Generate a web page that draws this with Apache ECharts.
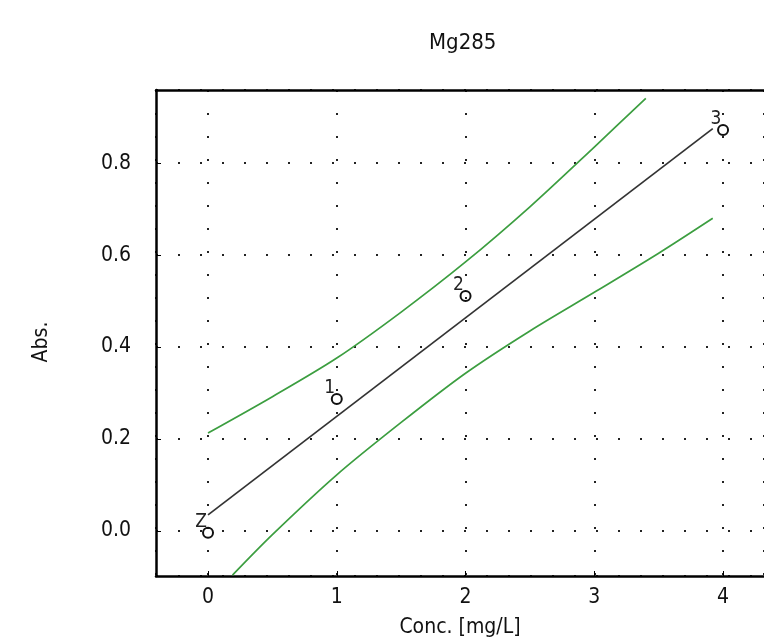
<!DOCTYPE html>
<html>
<head>
<meta charset="utf-8">
<style>
  html, body { margin: 0; padding: 0; background: #fff; }
  #chart { width: 764px; height: 639px; }
</style>
<script src="https://cdn.jsdelivr.net/npm/echarts@6/dist/echarts.min.js"></script>
</head>
<body>
<div id="chart"></div>
<script>
// standards (measured points)
const stdNames = ["Z", "1", "2", "3"];
const stdConc = [0, 1, 2, 4];
const stdAbs = [-0.004, 0.287, 0.511, 0.872];

// calibration line
const fitConc = [0, 3.92];
const fitAbs = [0.035, 0.875];

// confidence band
const upperConc = [0, 0.5, 1, 1.5, 2, 2.5, 3, 3.4];
const upperAbs = [0.213, 0.292, 0.376, 0.476, 0.585, 0.705, 0.835, 0.941];
const lowerConc = [0.19, 0.5, 1, 1.5, 2, 2.5, 3, 3.5, 3.92];
const lowerAbs = [-0.096, -0.008, 0.122, 0.236, 0.343, 0.435, 0.519, 0.604, 0.68];

const font = "DejaVu Sans Condensed, DejaVu Sans, sans-serif";
const zip = (xs, ys) => xs.map((x, i) => [x, ys[i]]);

const chart = echarts.init(document.getElementById("chart"));

// plot box runs off the right edge of the picture
const xMin = -0.404, xMax = 4.318;

const option = {
  animation: false,
  backgroundColor: "#fff",
  title: {
    text: "Mg285",
    left: 424,
    top: 27,
    textStyle: { fontFamily: font, fontSize: 22, fontWeight: "normal", color: "#111" }
  },
  grid: {
    left: 156,
    top: 90,
    right: 0,
    height: 486,
    show: false,
    containLabel: false,
    outerBoundsMode: "none"
  },
  xAxis: [
    {
      type: "value",
      min: xMin,
      max: xMax,
      splitNumber: 5,
      name: "Conc. [mg/L]",
      nameLocation: "middle",
      nameGap: 41,
      nameTextStyle: { fontFamily: font, fontSize: 21, color: "#111" },
      axisLine: { show: true, onZero: false, lineStyle: { color: "#000", width: 2.5 } },
      axisTick: { show: true, inside: true, length: 5, lineStyle: { color: "#000" } },
      axisLabel: {
        showMinLabel: false, showMaxLabel: false,
        fontFamily: font, fontSize: 21, color: "#111", margin: 11
      },
      splitLine: { show: true, lineStyle: { color: "#222", width: 2, type: [2, 21] } }
    },
    {
      type: "value",
      position: "top",
      min: xMin,
      max: xMax,
      axisLine: { show: true, onZero: false, lineStyle: { color: "#000", width: 2.5 } },
      axisTick: { show: false },
      axisLabel: { show: false },
      splitLine: { show: false }
    }
  ],
  yAxis: {
    type: "value",
    min: -0.098,
    max: 0.959,
    splitNumber: 5,
    name: "Abs.",
    nameLocation: "middle",
    nameGap: 104,
    nameRotate: 90,
    nameTextStyle: { fontFamily: font, fontSize: 21, color: "#111", padding: [0, 18, 0, 0] },
    axisLine: { show: true, onZero: false, lineStyle: { color: "#000", width: 2.5 } },
    axisTick: { show: true, inside: true, length: 5, lineStyle: { color: "#000" } },
    axisLabel: {
      showMinLabel: false, showMaxLabel: false,
      fontFamily: font, fontSize: 21, color: "#111", margin: 25,
      formatter: (v) => v.toFixed(1)
    },
    splitLine: { show: true, lineStyle: { color: "#222", width: 2, type: [2, 20] } }
  },
  series: [
    {
      type: "line",
      data: zip(upperConc, upperAbs),
      smooth: 0.3,
      showSymbol: false,
      lineStyle: { color: "#3c9e40", width: 1.7 }
    },
    {
      type: "line",
      data: zip(lowerConc, lowerAbs),
      smooth: 0.3,
      showSymbol: false,
      lineStyle: { color: "#3c9e40", width: 1.7 }
    },
    {
      type: "line",
      data: zip(fitConc, fitAbs),
      showSymbol: false,
      lineStyle: { color: "#333", width: 1.7 }
    },
    {
      type: "scatter",
      data: stdConc.map((x, i) => ({ value: [x, stdAbs[i]], name: stdNames[i] })),
      symbol: "circle",
      symbolSize: 10,
      itemStyle: { color: "rgba(255,255,255,0)", borderColor: "#111", borderWidth: 2, opacity: 1 },
      label: {
        show: true,
        formatter: (p) => p.name,
        position: [-1, -5],
        align: "center",
        verticalAlign: "middle",
        fontFamily: font,
        fontSize: 19,
        color: "#222"
      },
      z: 5
    }
  ]
};

chart.setOption(option);
</script>
</body>
</html>
